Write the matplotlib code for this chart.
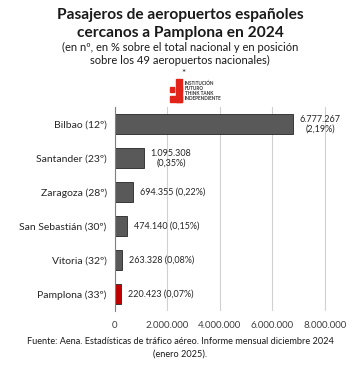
import matplotlib.pyplot as plt
from matplotlib.patches import Rectangle

# data
airports = ['Bilbao (12º)', 'Santander (23º)', 'Zaragoza (28º)',
            'San Sebastián (30º)', 'Vitoria (32º)', 'Pamplona (33º)']
passengers = [6777267, 1095308, 694355, 474140, 263328, 220423]
labels = ['6.777.267\n(2,19%)', '1.095.308\n(0,35%)', '694.355 (0,22%)',
          '474.140 (0,15%)', '263.328 (0,08%)', '220.423 (0,07%)']
ticks = [0, 2000000, 4000000, 6000000, 8000000]
tickLabels = ['0', '2.000.000', '4.000.000', '6.000.000', '8.000.000']

plt.rcParams['font.family'] = ['Lato', 'DejaVu Sans']

fig = plt.figure(figsize=(3.6, 3.65), dpi=100)
W, H = 360, 365
ax = fig.add_axes([115 / W, 1 - 311 / H, (326 - 115) / W, (311 - 107) / H])

colors = ['#595959'] * 5 + ['#c00000']
y = list(range(len(airports)))
ax.barh(y, passengers, height=0.58, color=colors, edgecolor='#262626', linewidth=0.6, zorder=3)
ax.set_ylim(len(airports) - 0.5, -0.5)
ax.set_xlim(0, 8050000)
ax.set_xticks(ticks)
ax.set_xticklabels(tickLabels, fontsize=7, color='#404040')
ax.set_yticks(y)
ax.set_yticklabels(airports, fontsize=7.5, color='#262626')
ax.tick_params(length=0, pad=6)
ax.tick_params(axis='x', pad=7)
ax.grid(axis='x', color='#d0d0d0', linewidth=0.8, zorder=0)
for s in ['top', 'right', 'bottom']:
    ax.spines[s].set_visible(False)
ax.spines['left'].set_color('#808080')
ax.spines['left'].set_linewidth(0.8)
ax.spines['left'].set_zorder(4)

for i, (v, lab) in enumerate(zip(passengers, labels)):
    ax.annotate(lab, (v, i), xytext=(5, 0), textcoords='offset points',
                ha='left', va='center', fontsize=6.5, color='#262626',
                multialignment='center', linespacing=1.1)

# titles
fig.text(0.5, 1 - 15 / H, 'Pasajeros de aeropuertos españoles', ha='center', va='center',
         fontsize=11.2, fontweight='bold', color='#1a1a1a')
fig.text(0.5, 1 - 33 / H, 'cercanos a Pamplona en 2024', ha='center', va='center',
         fontsize=11.2, fontweight='bold', color='#1a1a1a')
fig.text(0.5, 1 - 47 / H, '(en nº, en % sobre el total nacional y en posición', ha='center',
         va='center', fontsize=8, color='#1a1a1a')
fig.text(0.5, 1 - 60 / H, 'sobre los 49 aeropuertos nacionales)', ha='center',
         va='center', fontsize=8, color='#1a1a1a')
fig.text(183 / W, 1 - 73 / H, '*', ha='center', va='center', fontsize=7, color='#1a1a1a')

# logo
red = '#e2231a'
for (x0, y0, w, h) in [(176, 79, 6, 23), (170, 96, 12, 6), (176, 87, 6, 5), (170, 87, 4, 5)]:
    fig.patches.append(Rectangle((x0 / W, 1 - (y0 + h) / H), w / W, h / H,
                                 transform=fig.transFigure, color=red, zorder=5))
fig.text(185 / W, 1 - 91 / H, 'INSTITUCIÓN\nFUTURO\nTHINK TANK\nINDEPENDIENTE', ha='left',
         va='center', fontsize=3.3, color='#333333', linespacing=0.95, fontweight='bold')

# footer
fig.text(0.5, 1 - 341 / H, 'Fuente: Aena. Estadísticas de tráfico aéreo. Informe mensual diciembre 2024',
         ha='center', va='center', fontsize=6.6, color='#1a1a1a')
fig.text(0.5, 1 - 354 / H, '(enero 2025).', ha='center', va='center', fontsize=6.6, color='#1a1a1a')

fig.savefig('out.png', dpi=100)
